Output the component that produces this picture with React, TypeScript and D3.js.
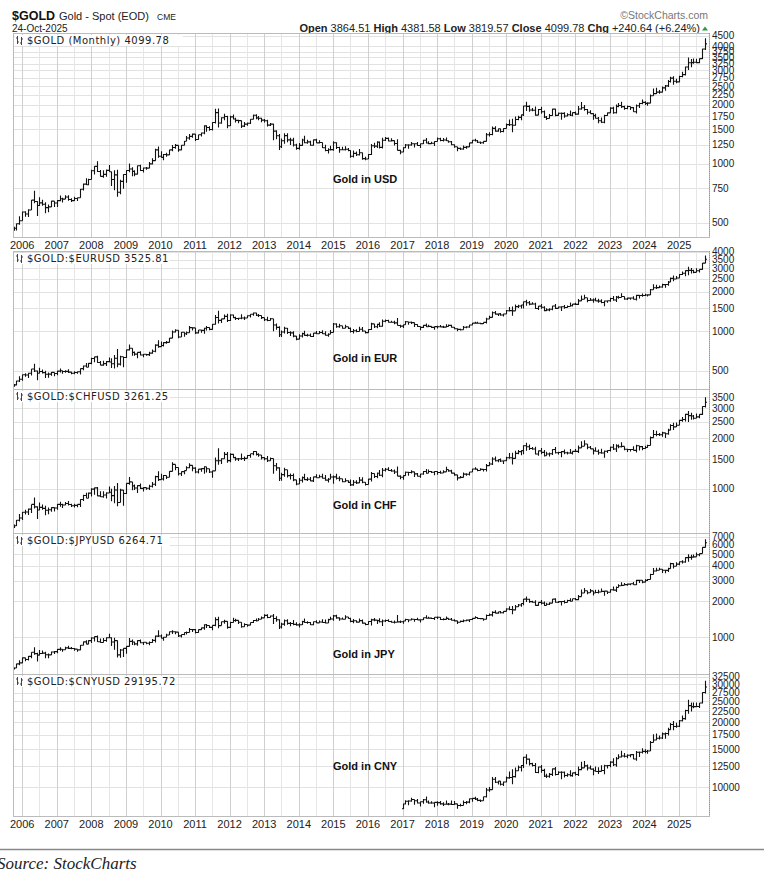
import React from 'react';
import * as d3 from 'd3';

// monthly bars, Oct 2005 .. Oct 2025
const firstOpen = 473;

const goldClose = [
  470, 495, 513,
  569, 556, 582, 654, 643, 614, 633, 623, 599, 604, 646, 632,
  650, 665, 662, 678, 659, 650, 666, 673, 743, 789, 783, 834,
  923, 972, 916, 865, 885, 928, 913, 833, 880, 718, 815, 884,
  927, 942, 917, 888, 979, 927, 954, 953, 1001, 1040, 1180, 1096,
  1081, 1118, 1113, 1180, 1213, 1244, 1181, 1247, 1307, 1357, 1384, 1421,
  1333, 1411, 1439, 1564, 1536, 1500, 1628, 1828, 1620, 1722, 1746, 1566,
  1740, 1697, 1669, 1664, 1560, 1598, 1614, 1692, 1772, 1719, 1713, 1675,
  1663, 1579, 1597, 1472, 1393, 1224, 1313, 1396, 1327, 1323, 1250, 1202,
  1244, 1326, 1284, 1296, 1246, 1327, 1282, 1287, 1211, 1171, 1183, 1184,
  1283, 1213, 1183, 1183, 1190, 1172, 1095, 1133, 1115, 1141, 1065, 1061,
  1118, 1238, 1233, 1293, 1215, 1322, 1351, 1309, 1316, 1273, 1173, 1152,
  1211, 1249, 1249, 1269, 1268, 1242, 1269, 1322, 1280, 1271, 1275, 1303,
  1345, 1318, 1325, 1315, 1298, 1253, 1224, 1201, 1192, 1215, 1222, 1282,
  1321, 1313, 1292, 1283, 1305, 1409, 1413, 1520, 1472, 1513, 1464, 1517,
  1589, 1585, 1577, 1686, 1730, 1781, 1975, 1968, 1886, 1879, 1776, 1898,
  1847, 1734, 1707, 1769, 1906, 1770, 1814, 1813, 1757, 1783, 1774, 1829,
  1797, 1909, 1937, 1897, 1837, 1807, 1766, 1711, 1661, 1634, 1768, 1824,
  1928, 1827, 1969, 1990, 1962, 1919, 1965, 1940, 1849, 1983, 2036, 2063,
  2039, 2044, 2230, 2286, 2327, 2326, 2447, 2503, 2634, 2744, 2643, 2625,
  2798, 2858, 3124, 3288, 3289, 3303, 3290, 3448, 3864.51, 4099.78,
];

const goldHigh = [
  478, 497, 541,
  572, 574, 587, 654, 730, 645, 677, 656, 637, 622, 650, 640,
  654, 690, 672, 693, 692, 669, 680, 674, 745, 796, 845, 840,
  935, 975, 1032, 932, 930, 938, 988, 915, 930, 935, 830, 887,
  930, 1006, 963, 930, 983, 990, 960, 964, 1023, 1070, 1195, 1227,
  1162, 1125, 1140, 1182, 1249, 1266, 1245, 1250, 1310, 1388, 1424, 1432,
  1424, 1412, 1448, 1575, 1577, 1556, 1632, 1912, 1921, 1730, 1803, 1763,
  1764, 1791, 1720, 1680, 1668, 1640, 1627, 1694, 1787, 1796, 1755, 1722,
  1696, 1683, 1617, 1605, 1488, 1424, 1348, 1434, 1434, 1362, 1361, 1267,
  1280, 1345, 1392, 1331, 1315, 1332, 1345, 1323, 1289, 1255, 1202, 1239,
  1308, 1291, 1224, 1224, 1232, 1205, 1176, 1170, 1157, 1191, 1143, 1088,
  1124, 1263, 1283, 1306, 1304, 1362, 1375, 1366, 1353, 1318, 1338, 1182,
  1219, 1264, 1261, 1295, 1272, 1296, 1272, 1331, 1357, 1306, 1299, 1306,
  1366, 1361, 1356, 1366, 1316, 1309, 1262, 1224, 1214, 1243, 1237, 1284,
  1326, 1346, 1325, 1301, 1306, 1439, 1453, 1555, 1557, 1517, 1516, 1523,
  1611, 1689, 1704, 1747, 1765, 1789, 1984, 2075, 1992, 1933, 1965, 1906,
  1959, 1875, 1756, 1798, 1912, 1916, 1832, 1831, 1834, 1813, 1877, 1831,
  1853, 1974, 2070, 1998, 1909, 1879, 1814, 1807, 1735, 1729, 1786, 1833,
  1949, 1959, 2009, 2049, 2079, 1983, 1987, 1949, 1953, 2009, 2052, 2135,
  2088, 2066, 2265, 2431, 2450, 2388, 2484, 2531, 2685, 2790, 2801, 2726,
  2817, 2956, 3148, 3500, 3435, 3451, 3439, 3453, 3872, 4381.58,
];

const goldLow = [
  456, 457, 489,
  513, 538, 537, 582, 630, 543, 610, 612, 560, 567, 610, 603,
  603, 645, 636, 662, 650, 640, 647, 648, 672, 733, 782, 780,
  835, 885, 910, 862, 851, 860, 912, 773, 735, 681, 700, 747,
  803, 907, 865, 865, 885, 920, 905, 935, 950, 995, 1040, 1075,
  1075, 1045, 1088, 1112, 1163, 1196, 1155, 1176, 1242, 1308, 1330, 1360,
  1309, 1329, 1381, 1420, 1462, 1478, 1480, 1610, 1535, 1603, 1670, 1523,
  1564, 1688, 1627, 1612, 1526, 1545, 1565, 1600, 1685, 1692, 1672, 1635,
  1626, 1555, 1562, 1321, 1338, 1180, 1207, 1270, 1292, 1251, 1227, 1181,
  1182, 1240, 1277, 1268, 1240, 1240, 1280, 1274, 1206, 1161, 1131, 1170,
  1167, 1191, 1142, 1175, 1170, 1162, 1077, 1080, 1099, 1106, 1052, 1046,
  1062, 1111, 1208, 1208, 1200, 1200, 1311, 1302, 1303, 1241, 1172, 1122,
  1147, 1208, 1195, 1240, 1214, 1236, 1205, 1265, 1271, 1260, 1263, 1236,
  1302, 1307, 1303, 1311, 1282, 1246, 1211, 1160, 1180, 1183, 1196, 1221,
  1276, 1302, 1281, 1266, 1267, 1301, 1381, 1400, 1459, 1459, 1445, 1454,
  1517, 1563, 1451, 1568, 1670, 1671, 1757, 1863, 1848, 1860, 1764, 1775,
  1802, 1717, 1676, 1705, 1765, 1750, 1765, 1682, 1721, 1746, 1758, 1753,
  1780, 1781, 1890, 1872, 1787, 1805, 1681, 1709, 1615, 1617, 1616, 1765,
  1823, 1804, 1809, 1950, 1933, 1893, 1903, 1885, 1846, 1810, 1932, 2016,
  2002, 1984, 2039, 2228, 2277, 2286, 2318, 2364, 2472, 2604, 2537, 2583,
  2615, 2773, 2832, 3015, 3121, 3248, 3268, 3269, 3436, 3819.57,
];

const eurUsd = [
  1.199, 1.179, 1.184,
  1.216, 1.192, 1.212, 1.262, 1.285, 1.279, 1.277, 1.281, 1.268, 1.276, 1.324, 1.320,
  1.302, 1.323, 1.335, 1.366, 1.345, 1.354, 1.368, 1.363, 1.426, 1.448, 1.468, 1.459,
  1.484, 1.518, 1.579, 1.562, 1.555, 1.575, 1.560, 1.467, 1.409, 1.274, 1.270, 1.397,
  1.281, 1.266, 1.325, 1.323, 1.414, 1.403, 1.425, 1.433, 1.464, 1.472, 1.501, 1.433,
  1.386, 1.363, 1.351, 1.330, 1.229, 1.222, 1.305, 1.267, 1.363, 1.393, 1.298, 1.338,
  1.369, 1.380, 1.416, 1.481, 1.438, 1.450, 1.438, 1.437, 1.339, 1.386, 1.345, 1.296,
  1.308, 1.335, 1.334, 1.324, 1.237, 1.266, 1.230, 1.257, 1.286, 1.297, 1.299, 1.319,
  1.358, 1.306, 1.282, 1.317, 1.300, 1.301, 1.330, 1.322, 1.353, 1.359, 1.359, 1.378,
  1.349, 1.381, 1.377, 1.387, 1.363, 1.369, 1.339, 1.313, 1.263, 1.253, 1.245, 1.210,
  1.129, 1.119, 1.073, 1.122, 1.099, 1.114, 1.098, 1.121, 1.117, 1.100, 1.059, 1.086,
  1.083, 1.087, 1.138, 1.145, 1.113, 1.110, 1.117, 1.116, 1.124, 1.098, 1.059, 1.052,
  1.080, 1.057, 1.065, 1.090, 1.124, 1.143, 1.184, 1.191, 1.181, 1.165, 1.190, 1.200,
  1.241, 1.219, 1.232, 1.208, 1.169, 1.168, 1.169, 1.160, 1.161, 1.131, 1.132, 1.147,
  1.145, 1.137, 1.122, 1.121, 1.117, 1.137, 1.108, 1.099, 1.090, 1.115, 1.101, 1.121,
  1.109, 1.103, 1.103, 1.095, 1.110, 1.123, 1.178, 1.194, 1.172, 1.165, 1.193, 1.222,
  1.213, 1.208, 1.173, 1.202, 1.223, 1.186, 1.187, 1.181, 1.158, 1.156, 1.134, 1.137,
  1.123, 1.122, 1.107, 1.054, 1.073, 1.048, 1.022, 1.005, 0.980, 0.988, 1.041, 1.070,
  1.086, 1.058, 1.084, 1.102, 1.069, 1.091, 1.100, 1.084, 1.057, 1.058, 1.089, 1.104,
  1.082, 1.081, 1.079, 1.067, 1.085, 1.071, 1.082, 1.105, 1.114, 1.088, 1.058, 1.035,
  1.036, 1.037, 1.082, 1.133, 1.135, 1.179, 1.141, 1.168, 1.173, 1.1628,
];

const usdChf = [
  1.290, 1.320, 1.314,
  1.279, 1.314, 1.305, 1.239, 1.218, 1.224, 1.229, 1.232, 1.250, 1.248, 1.201, 1.220,
  1.248, 1.218, 1.215, 1.210, 1.228, 1.224, 1.201, 1.204, 1.165, 1.160, 1.126, 1.133,
  1.081, 1.045, 0.994, 1.039, 1.041, 1.021, 1.047, 1.096, 1.120, 1.159, 1.208, 1.064,
  1.164, 1.169, 1.138, 1.141, 1.069, 1.087, 1.068, 1.059, 1.037, 1.026, 1.003, 1.036,
  1.060, 1.075, 1.054, 1.077, 1.152, 1.078, 1.042, 1.016, 0.983, 0.983, 0.997, 0.935,
  0.945, 0.929, 0.917, 0.866, 0.857, 0.840, 0.786, 0.804, 0.907, 0.877, 0.917, 0.940,
  0.921, 0.903, 0.903, 0.907, 0.971, 0.949, 0.977, 0.955, 0.940, 0.932, 0.927, 0.915,
  0.908, 0.930, 0.949, 0.932, 0.957, 0.945, 0.926, 0.931, 0.904, 0.908, 0.906, 0.891,
  0.906, 0.880, 0.884, 0.880, 0.896, 0.888, 0.909, 0.917, 0.955, 0.964, 0.966, 0.994,
  0.919, 0.954, 0.972, 0.933, 0.940, 0.934, 0.966, 0.967, 0.974, 0.989, 1.028, 1.001,
  1.023, 0.997, 0.961, 0.958, 0.993, 0.976, 0.968, 0.983, 0.971, 0.989, 1.015, 1.019,
  0.990, 1.005, 1.002, 0.995, 0.969, 0.958, 0.967, 0.959, 0.968, 0.998, 0.984, 0.974,
  0.931, 0.943, 0.953, 0.991, 0.986, 0.991, 0.990, 0.969, 0.982, 1.007, 1.000, 0.983,
  0.994, 0.998, 0.995, 1.018, 1.000, 0.976, 0.994, 0.990, 0.998, 0.986, 1.000, 0.968,
  0.963, 0.966, 0.962, 0.963, 0.962, 0.947, 0.913, 0.904, 0.921, 0.917, 0.906, 0.885,
  0.891, 0.907, 0.944, 0.914, 0.899, 0.925, 0.906, 0.917, 0.933, 0.915, 0.919, 0.912,
  0.929, 0.917, 0.924, 0.972, 0.960, 0.956, 0.951, 0.978, 0.987, 1.000, 0.946, 0.925,
  0.915, 0.943, 0.914, 0.894, 0.910, 0.895, 0.871, 0.883, 0.915, 0.909, 0.874, 0.841,
  0.863, 0.884, 0.902, 0.918, 0.902, 0.899, 0.878, 0.848, 0.846, 0.865, 0.881, 0.907,
  0.910, 0.902, 0.884, 0.826, 0.822, 0.793, 0.812, 0.801, 0.796, 0.7955,
];

const usdJpy = [
  116.4, 119.8, 117.9,
  117.2, 116.0, 117.8, 113.8, 112.5, 114.4, 114.7, 117.3, 118.1, 116.9, 115.8, 119.0,
  121.0, 118.5, 117.8, 119.5, 121.7, 123.2, 118.6, 115.8, 114.8, 115.4, 111.2, 111.7,
  106.4, 103.7, 99.7, 104.0, 105.5, 106.2, 108.1, 108.8, 106.0, 98.4, 95.4, 90.7,
  89.9, 97.6, 98.9, 98.6, 95.3, 96.4, 94.7, 93.0, 89.7, 90.1, 86.3, 93.0,
  90.3, 89.0, 93.5, 94.0, 91.3, 88.4, 86.5, 84.2, 83.5, 80.4, 83.7, 81.2,
  82.0, 81.8, 83.1, 81.2, 81.5, 80.5, 77.0, 76.7, 77.1, 78.2, 77.6, 77.0,
  76.3, 81.2, 82.9, 80.0, 78.3, 79.8, 78.1, 78.4, 77.9, 79.8, 82.5, 86.7,
  91.7, 92.6, 94.2, 97.5, 100.5, 99.2, 97.9, 98.2, 98.3, 98.4, 102.4, 105.3,
  102.0, 101.8, 103.2, 102.2, 101.8, 101.3, 102.8, 104.1, 109.6, 112.3, 118.6, 119.8,
  117.5, 119.6, 120.1, 119.4, 124.1, 122.5, 123.9, 121.2, 119.9, 120.6, 123.1, 120.2,
  121.0, 112.7, 112.6, 106.4, 110.7, 103.2, 102.1, 103.4, 101.3, 104.8, 114.5, 116.9,
  112.8, 112.7, 111.4, 111.5, 110.8, 112.4, 110.3, 110.0, 112.5, 113.6, 112.5, 112.7,
  109.2, 106.7, 106.3, 109.3, 108.8, 110.7, 111.9, 111.0, 113.7, 112.9, 113.6, 109.7,
  108.9, 111.4, 110.9, 111.4, 108.3, 107.9, 108.8, 106.3, 108.1, 108.0, 109.5, 108.6,
  108.4, 107.9, 107.5, 106.9, 107.8, 107.9, 105.8, 105.9, 105.5, 104.7, 104.3, 103.3,
  104.7, 106.6, 110.7, 109.3, 109.6, 111.1, 109.7, 110.0, 111.3, 114.0, 113.2, 115.1,
  115.1, 115.0, 121.7, 129.8, 128.7, 135.7, 133.2, 138.9, 144.7, 148.7, 138.0, 131.1,
  130.1, 136.2, 132.9, 136.3, 139.3, 144.3, 142.3, 145.5, 149.4, 151.7, 148.2, 141.0,
  147.6, 150.0, 151.4, 157.8, 157.3, 160.9, 150.0, 146.2, 143.6, 152.0, 149.8, 157.2,
  154.5, 150.6, 149.9, 143.1, 144.0, 144.0, 150.7, 147.0, 147.9, 152.81,
];

// CNY series starts Jan 2017
const cnyStart = 135;
const usdCny = [
  6.88, 6.87, 6.89, 6.89, 6.81, 6.78, 6.73, 6.60, 6.65, 6.63, 6.61, 6.51,
  6.29, 6.33, 6.27, 6.33, 6.41, 6.62, 6.82, 6.83, 6.88, 6.97, 6.96, 6.88,
  6.70, 6.69, 6.71, 6.73, 6.90, 6.87, 6.88, 7.15, 7.15, 7.04, 7.03, 6.96,
  6.94, 6.99, 7.09, 7.06, 7.14, 7.07, 6.97, 6.85, 6.81, 6.70, 6.58, 6.53,
  6.47, 6.48, 6.57, 6.47, 6.37, 6.46, 6.46, 6.46, 6.44, 6.40, 6.37, 6.36,
  6.36, 6.31, 6.34, 6.61, 6.67, 6.70, 6.74, 6.90, 7.12, 7.30, 7.10, 6.90,
  6.77, 6.95, 6.87, 6.93, 7.10, 7.25, 7.15, 7.29, 7.30, 7.32, 7.13, 7.10,
  7.17, 7.20, 7.22, 7.24, 7.24, 7.27, 7.22, 7.09, 7.02, 7.12, 7.24, 7.30,
  7.27, 7.28, 7.26, 7.27, 7.19, 7.16, 7.20, 7.13, 7.12, 7.1213,
];

const ticksUsd = [500, 750, 1000, 1250, 1500, 1750, 2000, 2250, 2500, 2750, 3000, 3250, 3500, 3750, 4000, 4500];
const ticksEur = [500, 1000, 1500, 2000, 2500, 3000, 3500, 4000];
const ticksChf = [1000, 1500, 2000, 2500, 3000, 3500];
const ticksJpy = [1000, 2000, 3000, 4000, 5000, 6000, 7000];
const ticksCny = [10000, 12500, 15000, 17500, 20000, 22500, 25000, 27500, 30000, 32500];

const startDate = new Date(2005, 9, 1);
const endDate = new Date(2025, 9, 1);
const left = 13;
const right = 709;

interface Bar { date: Date; o: number; h: number; l: number; c: number; }

function makeBars(factor: (i: number) => number | null): Bar[] {
  const bars: Bar[] = [];
  goldClose.forEach((c, i) => {
    const f = factor(i);
    if (f == null) return;
    const prevF = factor(i - 1) ?? f;
    const prevC = i === 0 ? firstOpen : goldClose[i - 1];
    bars.push({
      date: d3.timeMonth.offset(startDate, i),
      o: prevC * prevF,
      h: goldHigh[i] * f,
      l: goldLow[i] * f,
      c: c * f,
    });
  });
  return bars;
}

const x = d3.scaleTime().domain([startDate, endDate]).range([left + 0.5, right - 4]);
const years = d3.range(2006, 2026);
const halfYears = d3.range(2005, 2026).map((y) => new Date(y, 6, 1)).filter((d) => d > startDate && d < new Date(2025, 11, 1));

interface PanelProps {
  id: string;
  top: number;
  bottom: number;
  domain: [number, number];
  ticks: number[];
  bars: Bar[];
  label: string;
  caption: string;
  captionY: number;
  xAxis: boolean;
}

const Panel: React.FC<PanelProps> = ({ id, top, bottom, domain, ticks, bars, label, caption, captionY, xAxis }) => {
  const y = d3.scaleLog().domain(domain).range([bottom, top]);
  const path = bars
    .map((b) => {
      const cx = Math.round(x(b.date)) + 0.5;
      return `M${cx},${y(Math.max(b.h, b.o, b.c))}V${y(Math.min(b.l, b.o, b.c))}M${cx - 1.5},${y(b.o)}H${cx}M${cx},${y(b.c)}H${cx + 1.5}`;
    })
    .join('');
  return (
    <g>
      <defs>
        <clipPath id={id}>
          <rect x={left} y={top} width={right - left} height={bottom - top} />
        </clipPath>
      </defs>
      {ticks.map((t) => (
        <line key={t} x1={left} x2={right} y1={Math.round(y(t)) + 0.5} y2={Math.round(y(t)) + 0.5} stroke="#e2e2e2" />
      ))}
      {halfYears.map((d) => (
        <line key={+d} x1={Math.round(x(d)) + 0.5} x2={Math.round(x(d)) + 0.5} y1={top} y2={bottom} stroke="#e6e6e6" />
      ))}
      {years.map((yr) => (
        <line key={yr} x1={Math.round(x(new Date(yr, 0, 1))) + 0.5} x2={Math.round(x(new Date(yr, 0, 1))) + 0.5} y1={top} y2={bottom} stroke="#cfcfcf" />
      ))}
      <g clipPath={`url(#${id})`}>
        <path d={path} stroke="#111" strokeWidth={1.1} fill="none" />
      </g>
      <rect x={left + 0.5} y={top + 0.5} width={right - left} height={bottom - top} fill="none" stroke="#bbb" />
      <line x1={right + 0.5} x2={right + 0.5} y1={top} y2={bottom} stroke="#999" strokeDasharray="1,1" />
      {/* panel label */}
      <rect x={left + 2} y={top + 2} width={label.length * 6.6 + 16} height={11} fill="#fff" />
      <path d={`M17.5,${top + 3}V${top + 11}M16,${top + 5}H17.5M17.5,${top + 9}H19M21.5,${top + 4}V${top + 12}M20,${top + 10}H21.5M21.5,${top + 6}H23`} stroke="#444" fill="none" />
      <text x={27} y={top + 11} fontFamily="DejaVu Sans" fontSize={10} letterSpacing={0.5} fill="#222">{label}</text>
      <text x={333} y={captionY} fontFamily="Liberation Sans" fontWeight="bold" fontSize={11} fill="#111">{caption}</text>
      {ticks.map((t) => (
        <text key={t} x={right + 3} y={y(t)} dy="0.35em" fontFamily="Liberation Sans" fontSize={10} fill="#222">{t}</text>
      ))}
      {xAxis &&
        years.map((yr) => (
          <text key={yr} x={x(new Date(yr, 0, 1))} y={bottom + 12} textAnchor="middle" fontFamily="Liberation Sans" fontSize={11} fill="#222">{yr}</text>
        ))}
    </g>
  );
};

const App: React.FC = () => {
  const usdBars = makeBars(() => 1);
  const eurBars = makeBars((i) => (i < 0 ? null : 1 / eurUsd[i]));
  const chfBars = makeBars((i) => (i < 0 ? null : usdChf[i]));
  const jpyBars = makeBars((i) => (i < 0 ? null : usdJpy[i] / 100));
  const cnyBars = makeBars((i) => (i < cnyStart ? null : usdCny[i - cnyStart]));

  return (
    <svg width={770} height={876} style={{ position: 'absolute', left: 0, top: 0, background: '#fff' }}>
      <rect width={770} height={876} fill="#fff" />
      <text x={12} y={20} fontFamily="Liberation Sans" fontSize={12.5} fontWeight="bold" fill="#111">$GOLD</text>
      <text x={59} y={20} fontFamily="Liberation Sans" fontSize={11} fill="#222">Gold - Spot (EOD)</text>
      <text x={157} y={20} fontFamily="Liberation Sans" fontSize={8.5} fill="#222">CME</text>
      <text x={12} y={31.5} fontFamily="Liberation Sans" fontSize={10} fill="#222">24-Oct-2025</text>
      <text x={708} y={19} textAnchor="end" fontFamily="Liberation Sans" fontSize={10.5} fill="#777">©StockCharts.com</text>
      <text x={700} y={31.5} textAnchor="end" fontFamily="Liberation Sans" fontSize={11} fill="#222">
        <tspan fontWeight="bold">Open</tspan> 3864.51 <tspan fontWeight="bold">High</tspan> 4381.58 <tspan fontWeight="bold">Low</tspan> 3819.57 <tspan fontWeight="bold">Close</tspan> 4099.78 <tspan fontWeight="bold">Chg</tspan> +240.64 (+6.24%)
      </text>
      <path d="M702,30.5 L705,26.5 L708,30.5 Z" fill="#2a9a3a" />

      <Panel id="p1" top={33} bottom={237} domain={[424, 4661]} ticks={ticksUsd} bars={usdBars} label="$GOLD (Monthly) 4099.78" caption="Gold in USD" captionY={183} xAxis />
      <Panel id="p2" top={251} bottom={389} domain={[365, 4070]} ticks={ticksEur} bars={eurBars} label="$GOLD:$EURUSD 3525.81" caption="Gold in EUR" captionY={362} xAxis={false} />
      <Panel id="p3" top={389} bottom={533} domain={[549, 3903]} ticks={ticksChf} bars={chfBars} label="$GOLD:$CHFUSD 3261.25" caption="Gold in CHF" captionY={509} xAxis={false} />
      <Panel id="p4" top={533} bottom={674} domain={[487, 7566]} ticks={ticksJpy} bars={jpyBars} label="$GOLD:$JPYUSD 6264.71" caption="Gold in JPY" captionY={658} xAxis={false} />
      <Panel id="p5" top={674} bottom={816} domain={[7330, 33560]} ticks={ticksCny} bars={cnyBars} label="$GOLD:$CNYUSD 29195.72" caption="Gold in CNY" captionY={770} xAxis />

      <line x1={0} x2={764} y1={849.5} y2={849.5} stroke="#888" strokeWidth={1.5} />
      <text x={-3} y={869} fontFamily="Liberation Serif" fontStyle="italic" fontSize={17} fill="#222">Source: StockCharts</text>
    </svg>
  );
};

export default App;
